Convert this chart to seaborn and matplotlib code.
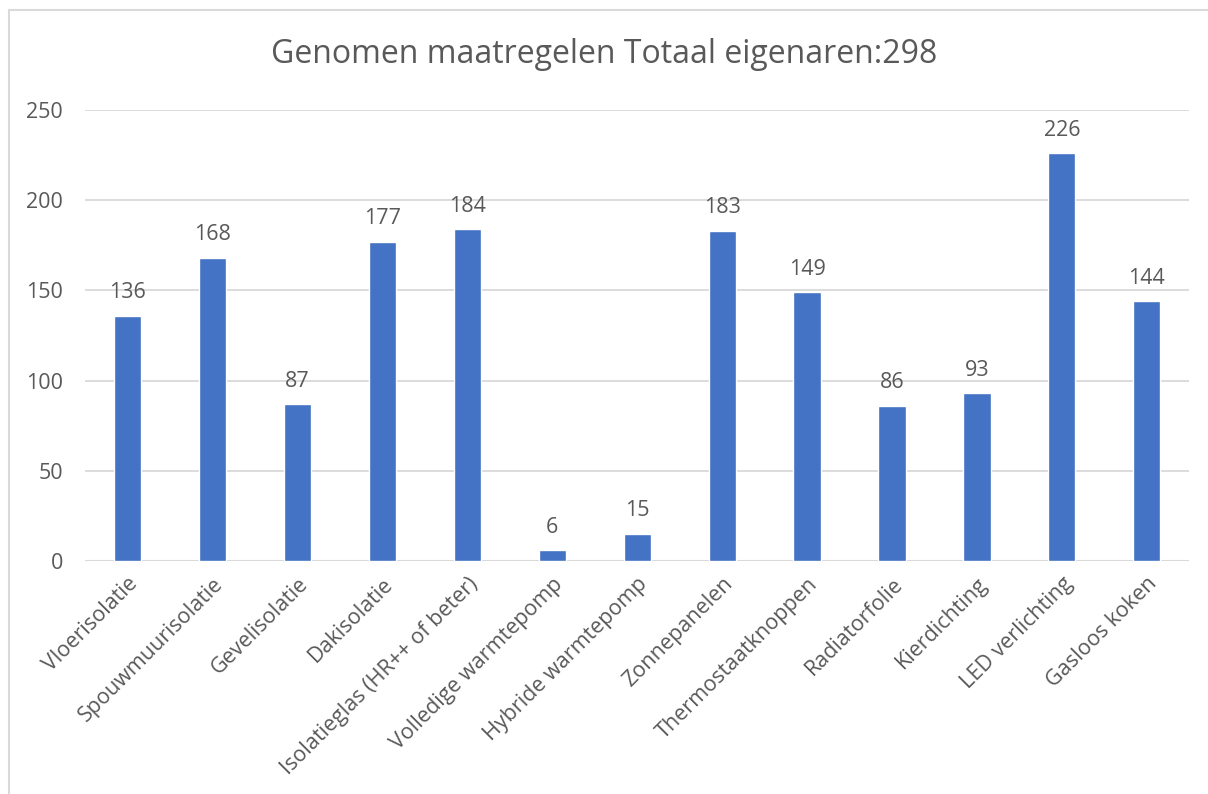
import matplotlib
matplotlib.use('Agg')
import matplotlib.pyplot as plt
import seaborn as sns
import pandas as pd
from matplotlib.patches import Rectangle

# Data
maatregelen = ['Vloerisolatie', 'Spouwmuurisolatie', 'Gevelisolatie', 'Dakisolatie',
               'Isolatieglas (HR++ of beter)', 'Volledige warmtepomp', 'Hybride warmtepomp',
               'Zonnepanelen', 'Thermostaatknoppen', 'Radiatorfolie', 'Kierdichting',
               'LED verlichting', 'Gasloos koken']
aantallen = [136, 168, 87, 177, 184, 6, 15, 183, 149, 86, 93, 226, 144]
titel = 'Genomen maatregelen Totaal eigenaren:298'

df = pd.DataFrame({'maatregel': maatregelen, 'aantal': aantallen})

sns.set_style('white')
plt.rcParams['font.family'] = ['Open Sans', 'DejaVu Sans']
tekst = '#595959'
blauw = '#4472C4'
grid = '#D9D9D9'

fig = plt.figure(figsize=(12.08, 7.94), dpi=100)
ax = fig.add_axes([0.0705, 0.2935, 0.914, 0.568])

sns.barplot(data=df, x='maatregel', y='aantal', color=blauw, width=0.32,
            saturation=1, ax=ax, zorder=3)

ax.set_ylim(0, 250)
ax.set_xlim(-0.5, len(maatregelen) - 0.5)
ax.set_yticks(range(0, 251, 50))
ax.yaxis.grid(True, color=grid, linewidth=1.3, zorder=0)
for s in ax.spines.values():
    s.set_visible(False)
ax.axhline(0, color=grid, linewidth=1.5, zorder=2)

ax.set_xlabel('')
ax.set_ylabel('')
ax.tick_params(axis='both', length=0, labelsize=15.5, colors=tekst)
ax.tick_params(axis='y', pad=16)
ax.set_xticks(range(len(maatregelen)))
ax.set_xticklabels(maatregelen, rotation=45, ha='right', rotation_mode='anchor')
ax.tick_params(axis='x', pad=9)

# waarden boven de staven
for container in ax.containers:
    ax.bar_label(container, fmt='%d', padding=9, fontsize=15.5, color=tekst)

fig.text(0.5, 0.931, titel, ha='center', va='center', fontsize=23, color=tekst)

# rand om de grafiek
fig.patches.append(Rectangle((9 / 1208, -0.01), 1.1, 1 - 10 / 794 + 0.01,
                             transform=fig.transFigure, fill=False,
                             edgecolor='#D9D9D9', linewidth=1.5))

fig.savefig('out.png', dpi=100)
